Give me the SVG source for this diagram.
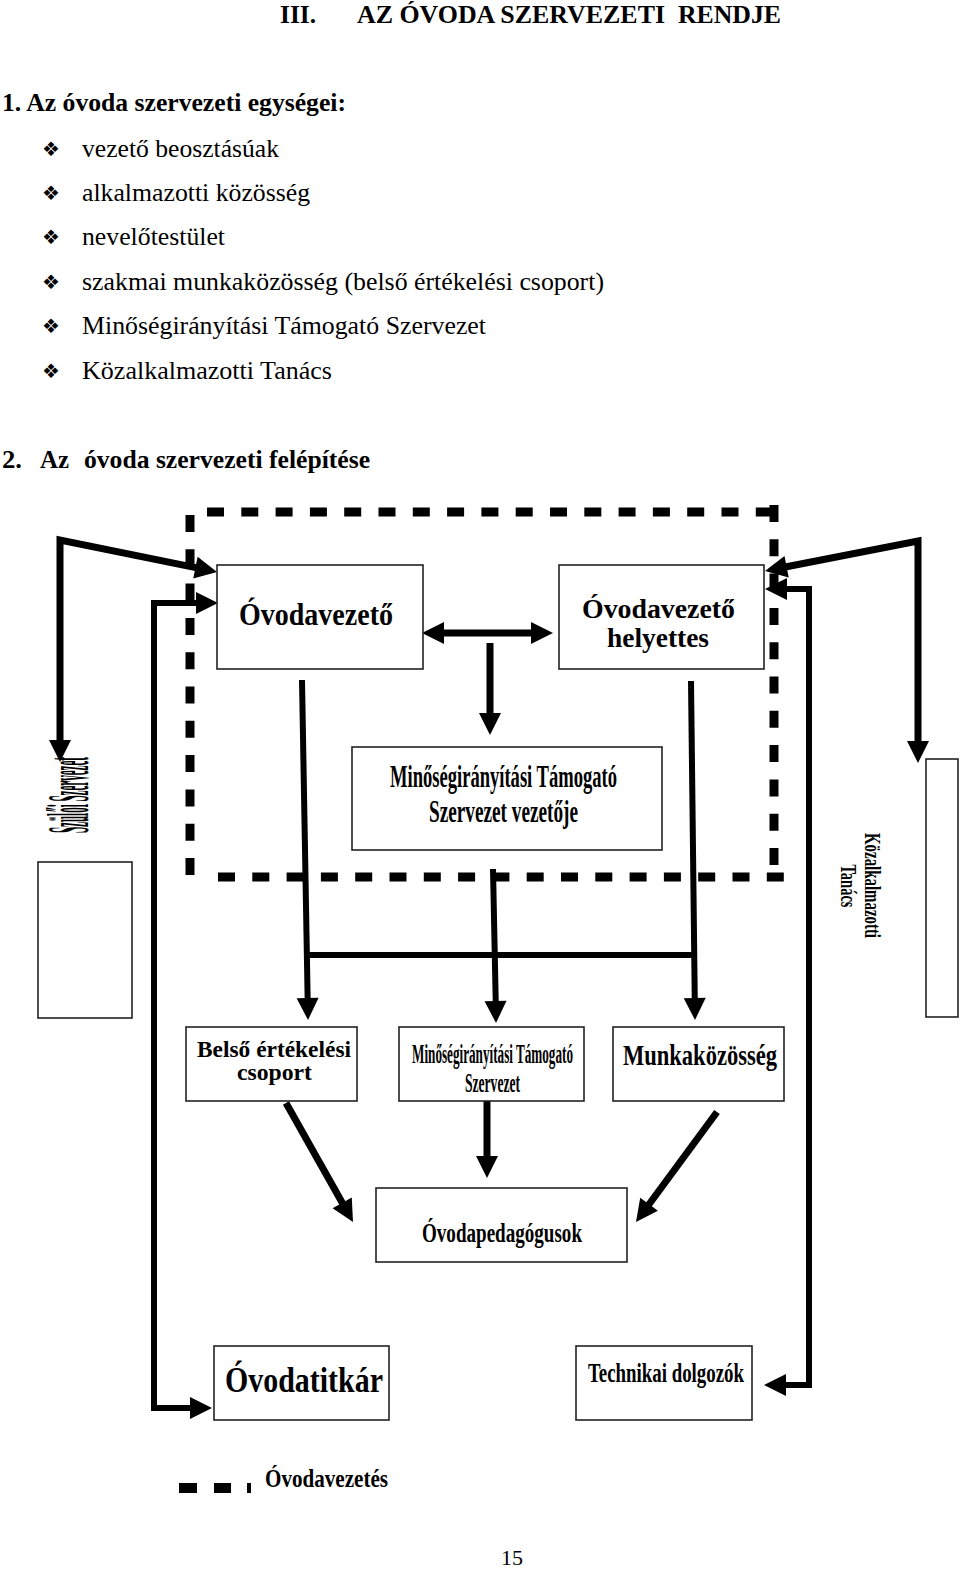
<svg xmlns="http://www.w3.org/2000/svg" xmlns:xlink="http://www.w3.org/1999/xlink" width="960" height="1572" viewBox="0 0 960 1572">
<style>
.t{font-family:"Liberation Serif","Times New Roman",serif;fill:#000}
.hb{font-size:26px;font-weight:bold}
.li{font-size:25.5px}
.bul{font-family:"DejaVu Sans",sans-serif;font-size:20px;fill:#000}
.lb{font-family:"Liberation Serif","Times New Roman",serif;font-weight:bold;fill:#000}
.box{fill:#fff;stroke:#222;stroke-width:1.6}
.dash{fill:none;stroke:#000;stroke-width:9;stroke-dasharray:17 17.3}
.c7{fill:none;stroke:#000;stroke-width:7;stroke-linejoin:miter}
.c6{fill:none;stroke:#000;stroke-width:6;stroke-linejoin:miter}
</style>
<defs>
<path id="ah" d="M0,0 L-22,-11 L-22,11 Z" fill="#000"/>
</defs>
<rect width="960" height="1572" fill="#fff"/>

<g id="heading">
<text class="t hb" x="280" y="23" textLength="36" lengthAdjust="spacingAndGlyphs">III.</text>
<text class="t hb" x="357" y="23" textLength="308" lengthAdjust="spacingAndGlyphs">AZ ÓVODA SZERVEZETI</text>
<text class="t hb" x="678" y="23" textLength="103" lengthAdjust="spacingAndGlyphs">RENDJE</text>
<text class="t hb" x="2" y="111" textLength="344" lengthAdjust="spacingAndGlyphs">1. Az óvoda szervezeti egységei:</text>
</g>

<g id="list">
<text class="bul" x="51" y="156" text-anchor="middle">❖</text>
<text class="t li" x="82" y="157" textLength="197" lengthAdjust="spacingAndGlyphs">vezető beosztásúak</text>
<text class="bul" x="51" y="200" text-anchor="middle">❖</text>
<text class="t li" x="82" y="201" textLength="228" lengthAdjust="spacingAndGlyphs">alkalmazotti közösség</text>
<text class="bul" x="51" y="244" text-anchor="middle">❖</text>
<text class="t li" x="82" y="245" textLength="143" lengthAdjust="spacingAndGlyphs">nevelőtestület</text>
<text class="bul" x="51" y="289" text-anchor="middle">❖</text>
<text class="t li" x="82" y="290" textLength="522" lengthAdjust="spacingAndGlyphs">szakmai munkaközösség (belső értékelési csoport)</text>
<text class="bul" x="51" y="333" text-anchor="middle">❖</text>
<text class="t li" x="82" y="334" textLength="404" lengthAdjust="spacingAndGlyphs">Minőségirányítási Támogató Szervezet</text>
<text class="bul" x="51" y="378" text-anchor="middle">❖</text>
<text class="t li" x="82" y="379" textLength="250" lengthAdjust="spacingAndGlyphs">Közalkalmazotti Tanács</text>
</g>

<g id="heading2">
<text class="t hb" x="2" y="468" textLength="20" lengthAdjust="spacingAndGlyphs">2.</text>
<text class="t hb" x="40" y="468" textLength="29" lengthAdjust="spacingAndGlyphs">Az</text>
<text class="t hb" x="84" y="468" textLength="286" lengthAdjust="spacingAndGlyphs">óvoda szervezeti felépítése</text>
</g>

<g id="vezetes-frame">
<line class="dash" x1="207" y1="512" x2="778" y2="512"/>
<line class="dash" x1="190" y1="515" x2="190" y2="878"/>
<line class="dash" x1="218" y1="877" x2="784" y2="877"/>
<line class="dash" x1="774" y1="505" x2="774" y2="866"/>
</g>

<g id="connectors">
<polyline class="c7" points="199.4,568.4 60,540 60,744"/>
<use xlink:href="#ah" transform="translate(217,572) rotate(11.5)"/>
<use xlink:href="#ah" transform="translate(60,762) rotate(90)"/>

<polyline class="c6" points="200,603 154,603 154,1408 194,1408"/>
<use xlink:href="#ah" transform="translate(218,603)"/>
<use xlink:href="#ah" transform="translate(212,1408)"/>

<polyline class="c7" points="782.7,567.5 918,541 918,745"/>
<use xlink:href="#ah" transform="translate(765,571) rotate(168.9)"/>
<use xlink:href="#ah" transform="translate(918,763) rotate(90)"/>

<polyline class="c6" points="783,589 809,589 809,1385 782,1385"/>
<use xlink:href="#ah" transform="translate(765,589) rotate(180)"/>
<use xlink:href="#ah" transform="translate(764,1385) rotate(180)"/>

<line class="c7" x1="438" y1="633" x2="537" y2="633"/>
<use xlink:href="#ah" transform="translate(422,633) rotate(180)"/>
<use xlink:href="#ah" transform="translate(553,633)"/>

<line class="c7" x1="490" y1="643" x2="490" y2="717"/>
<use xlink:href="#ah" transform="translate(490,735) rotate(90)"/>

<line class="c6" x1="302" y1="680" x2="307.7" y2="1002"/>
<use xlink:href="#ah" transform="translate(308,1020) rotate(89)"/>
<line class="c6" x1="305" y1="955" x2="696" y2="955"/>
<line class="c6" x1="691" y1="681" x2="694.8" y2="1002"/>
<use xlink:href="#ah" transform="translate(695,1020) rotate(89.3)"/>
<line class="c6" x1="493" y1="869" x2="495.8" y2="1005"/>
<use xlink:href="#ah" transform="translate(496,1023) rotate(88.8)"/>

<line class="c7" x1="487" y1="1101" x2="487" y2="1160"/>
<use xlink:href="#ah" transform="translate(487,1178) rotate(90)"/>

<line class="c7" x1="286" y1="1103" x2="344.2" y2="1206.3"/>
<use xlink:href="#ah" transform="translate(353,1222) rotate(60.6)"/>

<line class="c7" x1="717" y1="1112" x2="646.7" y2="1207.5"/>
<use xlink:href="#ah" transform="translate(636,1222) rotate(126.4)"/>
</g>

<g id="ovodavezeto">
<rect class="box" x="217" y="565" width="206" height="104"/>
<text class="lb" x="239" y="625" font-size="31" textLength="154" lengthAdjust="spacingAndGlyphs">Óvodavezető</text>
</g>

<g id="helyettes">
<rect class="box" x="559" y="565" width="205" height="104"/>
<text class="lb" x="582" y="618" font-size="28" textLength="153" lengthAdjust="spacingAndGlyphs">Óvodavezető</text>
<text class="lb" x="607" y="647" font-size="28" textLength="102" lengthAdjust="spacingAndGlyphs">helyettes</text>
</g>

<g id="mtsz-vezeto">
<rect class="box" x="352" y="747" width="310" height="103"/>
<text class="lb" x="390" y="787" font-size="32" textLength="227" lengthAdjust="spacingAndGlyphs">Minőségirányítási Támogató</text>
<text class="lb" x="429" y="822" font-size="32" textLength="149" lengthAdjust="spacingAndGlyphs">Szervezet vezetője</text>
</g>

<g id="szuloi-szervezet">
<rect class="box" x="38" y="862" width="94" height="156"/>
<text class="lb" transform="translate(88,833) rotate(-90)" font-size="60" textLength="76" lengthAdjust="spacingAndGlyphs">Szülői Szervezet</text>
</g>

<g id="kozalkalmazotti-tanacs">
<rect class="box" x="926" y="759" width="32" height="258"/>
<text class="lb" transform="translate(865,885.5) rotate(90)" font-size="24" text-anchor="middle" textLength="105" lengthAdjust="spacingAndGlyphs">Közalkalmazotti</text>
<text class="lb" transform="translate(841,886) rotate(90)" font-size="24" text-anchor="middle" textLength="43" lengthAdjust="spacingAndGlyphs">Tanács</text>
</g>

<g id="belso-ertekelesi">
<rect class="box" x="186" y="1027" width="171" height="74"/>
<text class="lb" x="197" y="1057" font-size="23" textLength="154" lengthAdjust="spacingAndGlyphs">Belső értékelési</text>
<text class="lb" x="237" y="1080" font-size="23" textLength="75" lengthAdjust="spacingAndGlyphs">csoport</text>
</g>

<g id="mtsz">
<rect class="box" x="399" y="1027" width="185" height="74"/>
<text class="lb" x="412" y="1063" font-size="27" textLength="161" lengthAdjust="spacingAndGlyphs">Minőségirányítási Támogató</text>
<text class="lb" x="465" y="1092" font-size="27" textLength="55" lengthAdjust="spacingAndGlyphs">Szervezet</text>
</g>

<g id="munkakozosseg">
<rect class="box" x="613" y="1027" width="171" height="74"/>
<text class="lb" x="623" y="1065" font-size="30" textLength="154" lengthAdjust="spacingAndGlyphs">Munkaközösség</text>
</g>

<g id="ovodapedagogusok">
<rect class="box" x="376" y="1188" width="251" height="74"/>
<text class="lb" x="422" y="1242" font-size="28" textLength="160" lengthAdjust="spacingAndGlyphs">Óvodapedagógusok</text>
</g>

<g id="ovodatitkar">
<rect class="box" x="214" y="1346" width="175" height="74"/>
<text class="lb" x="225" y="1392" font-size="36" textLength="158" lengthAdjust="spacingAndGlyphs">Óvodatitkár</text>
</g>

<g id="technikai">
<rect class="box" x="576" y="1346" width="176" height="74"/>
<text class="lb" x="588" y="1382" font-size="28" textLength="156" lengthAdjust="spacingAndGlyphs">Technikai dolgozók</text>
</g>

<g id="legend">
<rect x="179" y="1483" width="18" height="10" fill="#000"/>
<rect x="214" y="1483" width="17" height="10" fill="#000"/>
<rect x="247" y="1483" width="4" height="10" fill="#000"/>
<text class="lb" x="265" y="1487" font-size="26" textLength="123" lengthAdjust="spacingAndGlyphs">Óvodavezetés</text>
</g>

<text class="t" x="512" y="1565" font-size="22" text-anchor="middle">15</text>
</svg>
